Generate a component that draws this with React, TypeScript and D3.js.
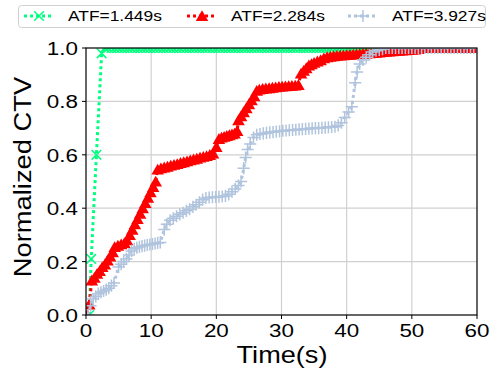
import React from 'react';
import * as d3 from 'd3';

// CDF of normalized CTV over time, three runs
const legendLabels = ['ATF=1.449s', 'ATF=2.284s', 'ATF=3.927s'];
const colors = ['#00ff7f', '#ff0000', '#b0c4de'];

const xTicks = [0, 10, 20, 30, 40, 50, 60];
const yTicks = [0.0, 0.2, 0.4, 0.6, 0.8, 1.0];

// [time, ctv] before each run reaches 1.0
const greenPoints: [number, number][] = [
  [0.5, 0.0], [0.8, 0.21], [1.6, 0.6], [2.4, 0.98],
];
const greenTopTimes = [
  2.9, 3.4, 3.9, 4.4, 4.9, 5.4, 5.9, 6.4, 6.9, 7.4, 7.9, 8.4, 8.9, 9.4, 9.9, 10.4, 10.9, 11.4, 11.9, 12.4,
  12.9, 13.4, 13.9, 14.4, 14.9, 15.4, 15.9, 16.4, 16.9, 17.4, 17.9, 18.4, 18.9, 19.4, 19.9, 20.4, 20.9,
  21.4, 21.9, 22.4, 22.9, 23.4, 23.9, 24.4, 24.9, 25.4, 25.9, 26.4, 26.9, 27.4, 27.9, 28.4, 28.9, 29.4,
  29.9, 30.4, 30.9, 31.4, 31.9, 32.4, 32.9, 33.4, 33.9, 34.4, 34.9, 35.4, 35.9, 36.4, 36.9, 37.4, 37.9,
  38.4, 38.9, 39.4, 39.9, 40.4, 40.9, 41.4, 41.9, 42.4, 42.9, 43.4, 43.9, 44.4, 44.9, 45.4, 45.9, 46.4,
  46.9, 47.4, 47.9, 48.4, 48.9, 49.4, 49.9, 50.4, 50.9, 51.4, 51.9, 52.4, 52.9, 53.4, 53.9, 54.4, 54.9,
  55.4, 55.9, 56.4, 56.9, 57.4, 57.9, 58.4, 58.9, 59.4, 59.9,
];

const redPoints: [number, number][] = [
  [0.2, 0.0], [0.5, 0.04], [0.9, 0.13], [1.3, 0.14], [1.7, 0.155], [2.1, 0.165], [2.5, 0.18], [2.9, 0.19],
  [3.3, 0.205], [3.7, 0.22], [4.1, 0.235], [4.4, 0.255], [4.9, 0.26], [5.4, 0.265], [5.9, 0.27], [6.3, 0.28],
  [6.7, 0.3], [7.1, 0.32], [7.5, 0.34], [7.9, 0.36], [8.3, 0.38], [8.7, 0.4], [9.1, 0.42], [9.5, 0.44],
  [9.9, 0.46], [10.3, 0.48], [10.7, 0.5], [11, 0.545], [11.5, 0.55], [12, 0.553], [12.5, 0.556], [13, 0.56],
  [13.5, 0.563], [14, 0.566], [14.5, 0.57], [15, 0.573], [15.5, 0.576], [16, 0.58], [16.5, 0.583], [17, 0.586],
  [17.5, 0.59], [18, 0.593], [18.5, 0.596], [19, 0.6], [19.5, 0.605], [20, 0.63], [20.4, 0.66], [20.8, 0.665],
  [21.2, 0.668], [21.6, 0.671], [22, 0.674], [22.4, 0.677], [22.8, 0.68], [23.2, 0.69], [23.4, 0.73],
  [23.8, 0.745], [24.2, 0.76], [24.6, 0.775], [25, 0.79], [25.4, 0.805], [25.8, 0.82], [26.2, 0.84],
  [26.6, 0.845], [27.1, 0.847], [27.6, 0.849], [28.1, 0.85], [28.6, 0.852], [29.1, 0.853], [29.6, 0.855],
  [30.1, 0.856], [30.6, 0.857], [31.1, 0.858], [31.6, 0.859], [32.1, 0.86], [32.6, 0.862], [33, 0.905],
  [33.4, 0.915], [33.8, 0.925], [34.2, 0.935], [34.6, 0.94], [35, 0.945], [35.5, 0.95], [36, 0.955],
  [36.5, 0.962], [37, 0.966], [37.5, 0.968], [38, 0.97], [38.5, 0.971], [39, 0.972], [39.5, 0.973], [40, 0.974],
  [40.5, 0.975], [41, 0.976], [41.5, 0.977], [42, 0.978], [42.5, 0.979], [43, 0.98], [43.5, 0.981], [44, 0.982],
  [44.5, 0.983], [45, 0.984], [45.5, 0.985], [46, 0.986], [46.5, 0.987], [47, 0.988], [47.5, 0.989], [48, 0.99],
  [48.5, 0.991], [49, 0.992], [49.5, 0.993], [50, 0.994], [50.5, 0.995], [51, 0.997],
];
const redTopTimes = [
  51.5, 52, 52.5, 53, 53.5, 54, 54.5, 55, 55.5, 56, 56.5, 57, 57.5, 58, 58.5, 59, 59.5, 60,
];

const bluePoints: [number, number][] = [
  [0.3, 0.0], [0.7, 0.035], [1.1, 0.06], [1.5, 0.07], [1.9, 0.08], [2.3, 0.085], [2.7, 0.09], [3.1, 0.095],
  [3.5, 0.1], [3.9, 0.11], [4.3, 0.12], [5, 0.18], [5.4, 0.19], [5.8, 0.2], [6.2, 0.21], [6.6, 0.225], [7, 0.24],
  [7.4, 0.248], [7.8, 0.252], [8.2, 0.255], [8.6, 0.258], [9, 0.26], [9.4, 0.262], [9.8, 0.264], [10.2, 0.266],
  [10.6, 0.268], [11, 0.27], [11.4, 0.272], [12, 0.32], [12.4, 0.34], [12.9, 0.355], [13.4, 0.362],
  [13.9, 0.37], [14.4, 0.377], [14.9, 0.383], [15.4, 0.39], [15.9, 0.396], [16.4, 0.405], [16.9, 0.413],
  [17.4, 0.422], [17.9, 0.432], [18.4, 0.438], [18.9, 0.44], [19.4, 0.441], [19.9, 0.442], [20.4, 0.443],
  [20.9, 0.444], [21.4, 0.446], [21.9, 0.452], [22.4, 0.462], [22.9, 0.472], [23.4, 0.485], [23.8, 0.5],
  [24.2, 0.55], [24.5, 0.59], [24.8, 0.62], [25.2, 0.64], [25.7, 0.665], [26.2, 0.675], [26.7, 0.678],
  [27.2, 0.68], [27.7, 0.682], [28.2, 0.684], [28.7, 0.685], [29.2, 0.687], [29.7, 0.688], [30.2, 0.69],
  [30.7, 0.691], [31.2, 0.692], [31.7, 0.693], [32.2, 0.694], [32.7, 0.695], [33.2, 0.696], [33.7, 0.697],
  [34.2, 0.698], [34.7, 0.699], [35.2, 0.7], [35.7, 0.7], [36.2, 0.701], [36.7, 0.702], [37.2, 0.703],
  [37.7, 0.704], [38.2, 0.705], [38.7, 0.71], [39.2, 0.72], [39.7, 0.74], [40.3, 0.76], [40.8, 0.78],
  [41.3, 0.87], [41.6, 0.91], [42, 0.94], [42.5, 0.955], [43, 0.965], [43.5, 0.975], [44, 0.985],
  [44.5, 0.99], [45, 0.993], [45.5, 0.996],
];
const blueTopTimes = [
  46, 46.5, 47, 47.5, 48, 48.5, 49, 49.5, 50, 50.5, 51, 51.5, 52, 52.5, 53, 53.5, 54, 54.5, 55, 55.5,
  56, 56.5, 57, 57.5, 58, 58.5, 59, 59.5, 60,
];

const W = 493;
const H = 377;
const left = 86, right = 477, top = 48, bottom = 315;
const font = 'Liberation Sans, Arial, Helvetica, sans-serif';

const x = d3.scaleLinear().domain([0, 60]).range([left, right]);
const y = d3.scaleLinear().domain([0, 1]).range([bottom, top]);

const withTop = (pts: [number, number][], times: number[]): [number, number][] =>
  pts.concat(times.map((t) => [t, 1] as [number, number]));

const series = [
  { pts: withTop(greenPoints, greenTopTimes), color: colors[0], kind: 'times' },
  { pts: withTop(redPoints, redTopTimes), color: colors[1], kind: 'tri' },
  { pts: withTop(bluePoints, blueTopTimes), color: colors[2], kind: 'plus' },
];

const symTimes = d3.symbol(d3.symbolTimes, 62)();
const symTri = d3.symbol(d3.symbolTriangle, 68)();
const symPlus = d3.symbol(d3.symbolPlus, 50)();

function Marker({ kind, color, cx, cy }) {
  if (kind === 'tri') {
    return <path d={symTri} transform={`translate(${cx},${cy + 1.5})`} fill={color} stroke="none" />;
  }
  return (
    <path
      d={kind === 'times' ? symTimes : symPlus}
      transform={`translate(${cx},${cy})`}
      fill="none"
      stroke={color}
      strokeWidth={1.5}
    />
  );
}

// stretched text, the source image is a bit wider than its fonts
function Txt({ x0, y0, size, anchor = 'start', sx = 1.18, rot = 0, children }) {
  return (
    <text
      transform={`translate(${x0},${y0}) rotate(${rot}) scale(${sx},1)`}
      fontSize={size}
      fontFamily={font}
      textAnchor={anchor}
      fill="#000"
    >
      {children}
    </text>
  );
}

export default function App() {
  const line = d3
    .line<[number, number]>()
    .x((d) => x(d[0]))
    .y((d) => y(d[1]));

  const legendX = [24, 187, 348];

  return (
    <svg width={W} height={H} style={{ position: 'absolute', left: 0, top: 0, background: '#fff' }}>
      <defs>
        <clipPath id="plot-clip">
          <rect x={left} y={top} width={right - left} height={bottom - top} />
        </clipPath>
      </defs>

      {/* grid */}
      {xTicks.slice(1, -1).map((t) => (
        <line key={'gx' + t} x1={x(t)} x2={x(t)} y1={top} y2={bottom} stroke="#d0d0d0" strokeWidth={1.2} />
      ))}
      {yTicks.slice(1, -1).map((t) => (
        <line key={'gy' + t} x1={left} x2={right} y1={y(t)} y2={y(t)} stroke="#d0d0d0" strokeWidth={1.2} />
      ))}

      <g clipPath="url(#plot-clip)">
        {series.map((s, i) => (
          <g key={i}>
            <path d={line(s.pts)} fill="none" stroke={s.color} strokeWidth={3} strokeDasharray="3 3" />
            {s.pts.map((p, j) => (
              <Marker key={j} kind={s.kind} color={s.color} cx={x(p[0])} cy={y(p[1])} />
            ))}
          </g>
        ))}
      </g>

      {/* frame and ticks */}
      <rect x={left} y={top} width={right - left} height={bottom - top} fill="none" stroke="#000" strokeWidth={1.2} />
      {xTicks.map((t) => (
        <g key={'xt' + t}>
          <line x1={x(t)} x2={x(t)} y1={bottom} y2={bottom + 4} stroke="#000" />
          <Txt x0={x(t)} y0={bottom + 22} size={19} anchor="middle">{t}</Txt>
        </g>
      ))}
      {yTicks.map((t) => (
        <g key={'yt' + t}>
          <line x1={left - 4} x2={left} y1={y(t)} y2={y(t)} stroke="#000" />
          <Txt x0={left - 8} y0={y(t) + 7} size={19} anchor="end">{d3.format('.1f')(t)}</Txt>
        </g>
      ))}

      <Txt x0={282} y0={363} size={23} anchor="middle">Time(s)</Txt>
      <Txt x0={31} y0={177} size={24} anchor="middle" rot={-90} sx={1.14}>Normalized CTV</Txt>

      {/* legend */}
      <rect x={18.5} y={5.5} width={467} height={22} rx={3} fill="#fff" stroke="#d0d0d0" />
      {series.map((s, i) => (
        <g key={'lg' + i}>
          <line
            x1={legendX[i]}
            x2={legendX[i] + 30}
            y1={16}
            y2={16}
            stroke={s.color}
            strokeWidth={3}
            strokeDasharray="3 3"
          />
          <Marker kind={s.kind} color={s.color} cx={legendX[i] + 15} cy={16} />
          <Txt x0={legendX[i] + 44} y0={21} size={14.5} sx={1.2}>{legendLabels[i]}</Txt>
        </g>
      ))}
    </svg>
  );
}
